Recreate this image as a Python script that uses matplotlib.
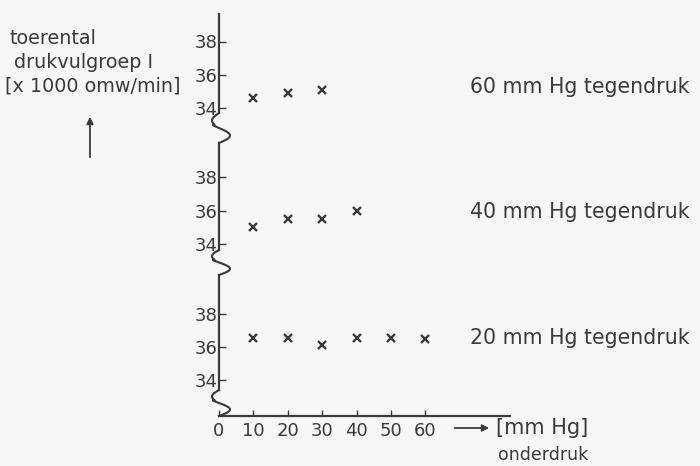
"""Toerental drukvulgroep I tegen onderdruk, voor drie waarden van tegendruk."""
import numpy as np
import matplotlib
matplotlib.use("Agg")
import matplotlib.pyplot as plt

# data
onderdruk = [10, 20, 30, 40, 50, 60]
toeren_60 = [34.6, 34.9, 35.1]
toeren_40 = [35.0, 35.5, 35.5, 36.0]
toeren_20 = [36.55, 36.55, 36.1, 36.55, 36.55, 36.5]
series = [
    ("60 mm Hg tegendruk", toeren_60),
    ("40 mm Hg tegendruk", toeren_40),
    ("20 mm Hg tegendruk", toeren_20),
]
y_ticks = [34, 36, 38]
x_ticks = [0, 10, 20, 30, 40, 50, 60]

W, H = 700, 466
INK = "#3a3a3a"
BG = "#f6f6f4"
FONT = 13

plt.rcParams["font.family"] = ["DejaVu Sans"]

fig = plt.figure(figsize=(W / 100, H / 100), dpi=100, facecolor=BG)

# overlay in pixel coordinates for texts and axis breaks
ov = fig.add_axes([0, 0, 1, 1], zorder=0)
ov.set_xlim(0, W)
ov.set_ylim(H, 0)
ov.axis("off")

x_left, x_right = 219, 510
x_max = 84.6

# panel layout in pixels: spine top, spine bottom, pixel of 34 and of 38
panels = [(14, 113, 108, 41.5), (143, 250, 244, 177), (275, 390, 380, 314)]
label_y = [87, 212, 338]


def px_axes(top, bottom):
    return fig.add_axes([x_left / W, 1 - bottom / H, (x_right - x_left) / W,
                         (bottom - top) / H], zorder=2)


for (top, bottom, y34, y38), (name, vals), ly in zip(panels, series, label_y):
    ax = px_axes(top, bottom)
    unit = (y34 - y38) / 4
    ax.set_ylim(34 - (bottom - y34) / unit, 34 + (y34 - top) / unit)
    ax.set_xlim(0, x_max)
    ax.patch.set_alpha(0)
    for s in ("top", "right", "bottom"):
        ax.spines[s].set_visible(False)
    ax.spines["left"].set_color(INK)
    ax.spines["left"].set_linewidth(1.6)
    ax.set_xticks([])
    ax.set_yticks(y_ticks)
    ax.tick_params(axis="y", direction="in", length=5, width=1, color=INK,
                   labelcolor=INK, labelsize=FONT, pad=1)
    ax.plot(onderdruk[:len(vals)], vals, linestyle="none", marker="x",
            markersize=5.5, markeredgewidth=1.7, color=INK)
    ov.text(470, ly, name, fontsize=14.8, color=INK, va="center", ha="left")

# x axis
x_axis_y = 416
xax = fig.add_axes([x_left / W, 1 - x_axis_y / H, (x_right - x_left) / W, 0.001],
                   zorder=2)
xax.set_xlim(0, x_max)
xax.patch.set_alpha(0)
for s in ("top", "right", "left"):
    xax.spines[s].set_visible(False)
xax.spines["bottom"].set_color(INK)
xax.spines["bottom"].set_linewidth(1.6)
xax.set_yticks([])
xax.set_xticks(x_ticks)
xax.tick_params(axis="x", direction="in", length=4, width=1, color=INK,
                labelcolor=INK, labelsize=FONT, pad=4)

# axis breaks between the panels (S-shaped)
t = np.linspace(0, 1, 60)
breaks = [(113, 143), (250, 275), (390, x_axis_y)]
for y0, y1 in breaks:
    swing = np.where(t < 0.4, 7, 11)
    ov.plot(x_left - swing * np.sin(2 * np.pi * t), y0 + t * (y1 - y0),
            color=INK, lw=1.5)

# y label and arrow
ov.text(10, 38, "toerental", fontsize=13.8, color=INK, va="center")
ov.text(14, 62, "drukvulgroep I", fontsize=13.8, color=INK, va="center")
ov.text(5, 86, "[x 1000 omw/min]", fontsize=13.8, color=INK, va="center")
ov.annotate("", xy=(90, 114), xytext=(90, 160),
            arrowprops=dict(arrowstyle="-|>", color=INK, lw=1.3,
                            mutation_scale=10))

# x label and arrow
ov.annotate("", xy=(492, 428), xytext=(452, 428),
            arrowprops=dict(arrowstyle="-|>", color=INK, lw=1.3,
                            mutation_scale=10))
ov.text(496, 428, "[mm Hg]", fontsize=15, color=INK, va="center")
ov.text(498, 455, "onderdruk", fontsize=12.5, color=INK, va="center")

fig.savefig("out.png", dpi=100, facecolor=BG)
